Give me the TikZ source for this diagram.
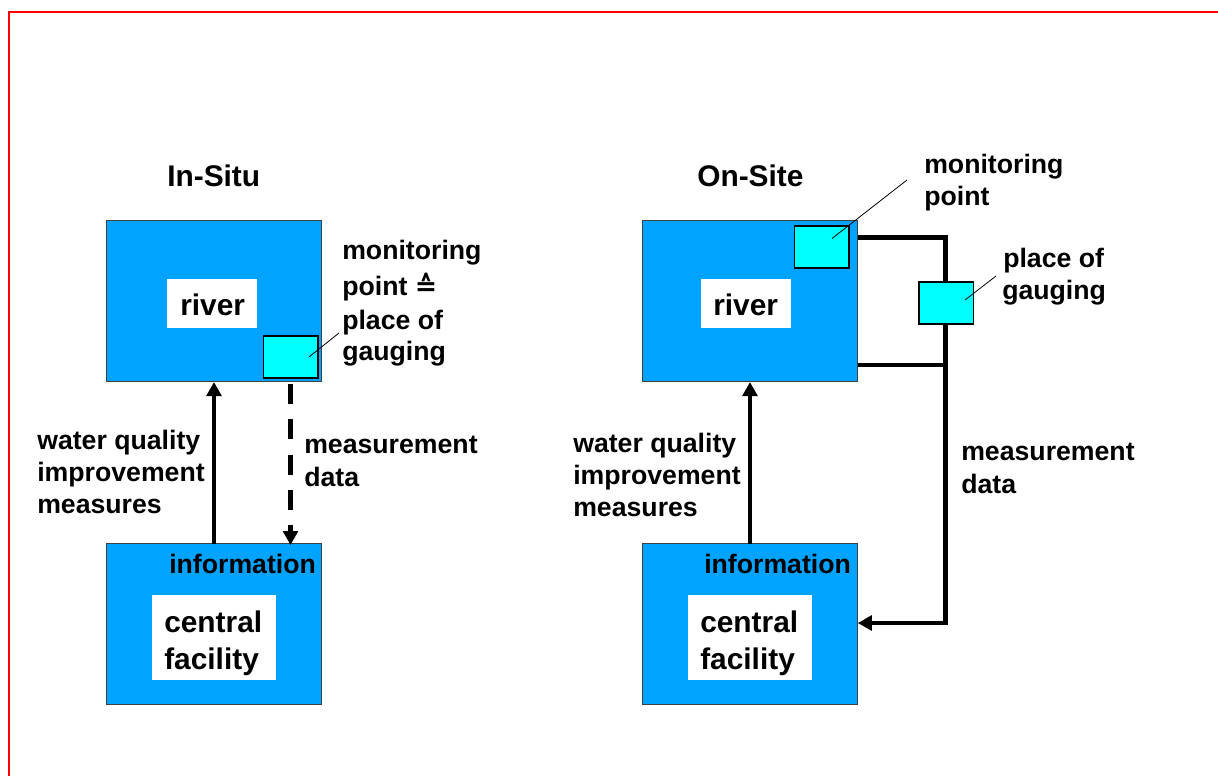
\documentclass[tikz,border=0pt]{standalone}
\usepackage{fontspec}
\setmainfont{Liberation Sans}
\newfontfamily\symfont{DejaVu Sans}
\usetikzlibrary{arrows.meta}
\definecolor{riverblue}{RGB}{0,163,255}
\definecolor{gaugecyan}{RGB}{0,255,255}
\tikzset{
  x=0.75pt,y=-0.75pt,
  bluebox/.style={draw=black!75,line width=0.6pt,fill=riverblue,minimum width=161.25pt,minimum height=121pt,inner sep=0pt,anchor=north west},
  whitebox/.style={fill=white,inner sep=0pt,anchor=north west},
  cyanbox/.style={draw=black,line width=1.2pt,fill=gaugecyan,minimum width=41pt,minimum height=31.5pt,inner sep=0pt,anchor=north west},
  lab/.style={anchor=base west,inner sep=0pt,font=\bfseries\fontsize{20}{24}\selectfont},
  biglab/.style={anchor=base west,inner sep=0pt,font=\bfseries\fontsize{22.4}{27}\selectfont},
  heavy/.style={line width=3.6pt,draw=black},
  heavyarrow/.style={heavy,-{Triangle[length=10.5pt,width=11pt]}},
  leader/.style={line width=0.6pt,draw=black},
}
\begin{document}
\begin{tikzpicture}
\useasboundingbox (0,0) rectangle (1218,776);
\draw[red,line width=1.6pt] (9,776) -- (9,12) -- (1218,12);

% left: river and central facility
\node[bluebox] (riverA) at (106,220) {};
\node[bluebox] (infoA) at (106,543) {};
\node[whitebox,minimum width=67.5pt,minimum height=36.75pt] (riverAbg) at (167,279) {};
\node[whitebox,minimum width=93pt,minimum height=63.75pt] (centralAbg) at (152,595) {};
\node[cyanbox] (cyanA) at (262.5,335) {};

% right: river and central facility
\node[bluebox] (riverB) at (642,220) {};
\node[bluebox] (infoB) at (642,543) {};
\node[whitebox,minimum width=67.5pt,minimum height=36.75pt] (riverBbg) at (701,279) {};
\node[whitebox,minimum width=93pt,minimum height=63.75pt] (centralBbg) at (688,595) {};
\node[cyanbox] (cyanB) at (793.5,225) {};
\node[cyanbox] (gauge) at (918,281) {};

% connectors, left
\draw[heavyarrow] (214,544) -- (214,382);
\coordinate (dashStart) at (290.5,384);
\coordinate (dashEnd) at (290.5,545);
\draw[heavyarrow,dash pattern=on 15pt off 11.5pt] (dashStart) -- (dashEnd);

% connectors, right
\draw[heavyarrow] (750,544) -- (750,382);
\coordinate (cornerTop) at (945.5,237.5);
\coordinate (cornerMid) at (945.5,365);
\coordinate (cornerLow) at (945.5,623);
\draw[heavy] (riverB.east |- cornerTop) -- (cornerTop) -- (gauge.north -| cornerTop);
\draw[heavy] (gauge.south -| cornerTop) -- (cornerMid);
\draw[heavy] (riverB.east |- cornerMid) -- (cornerMid);
\draw[heavy,-{Triangle[length=10.5pt,width=11pt]}] (cornerMid) -- (cornerLow) -- (infoB.east |- cornerLow);

% leaders
\coordinate (leadA) at (339,333);
\draw[leader] (309,357) -- (leadA);
\coordinate (leadB) at (907,180);
\draw[leader] (832,238.5) -- (leadB);
\coordinate (leadC) at (996,276);
\draw[leader] (965,300) -- (leadC);

% text, left
\node[biglab] (tInSitu) at (167,186) {In-Situ};
\node[biglab] (tRiverA) at (180,315) {river};
\node[lab] (t1) at (342,259) {monitoring};
\node[lab] (t2) at (342,295) {point {\symfont\char"2259}};
\node[lab] (t3) at (342,329) {place of};
\node[lab] (t4) at (342,360) {gauging};
\node[lab] (t5) at (37,449) {water quality};
\node[lab] (t6) at (37,481) {improvement};
\node[lab] (t7) at (37,513) {measures};
\node[lab] (t8) at (304,453) {measurement};
\node[lab] (t9) at (304,486) {data};
\node[lab] (t10) at (169,573) {information};
\node[biglab] (t11) at (164,632) {central};
\node[biglab] (t12) at (164,669) {facility};

% text, right
\node[biglab] (tOnSite) at (697,186) {On-Site};
\node[biglab] (tRiverB) at (713,315) {river};
\node[lab] (u1) at (924,173) {monitoring};
\node[lab] (u2) at (924,205) {point};
\node[lab] (u3) at (1003,267) {place of};
\node[lab] (u4) at (1002,299) {gauging};
\node[lab] (u5) at (573,452) {water quality};
\node[lab] (u6) at (573,484) {improvement};
\node[lab] (u7) at (573,516) {measures};
\node[lab] (u8) at (961,460) {measurement};
\node[lab] (u9) at (961,493) {data};
\node[lab] (u10) at (704,573) {information};
\node[biglab] (u11) at (700,632) {central};
\node[biglab] (u12) at (700,669) {facility};
\end{tikzpicture}
\end{document}
